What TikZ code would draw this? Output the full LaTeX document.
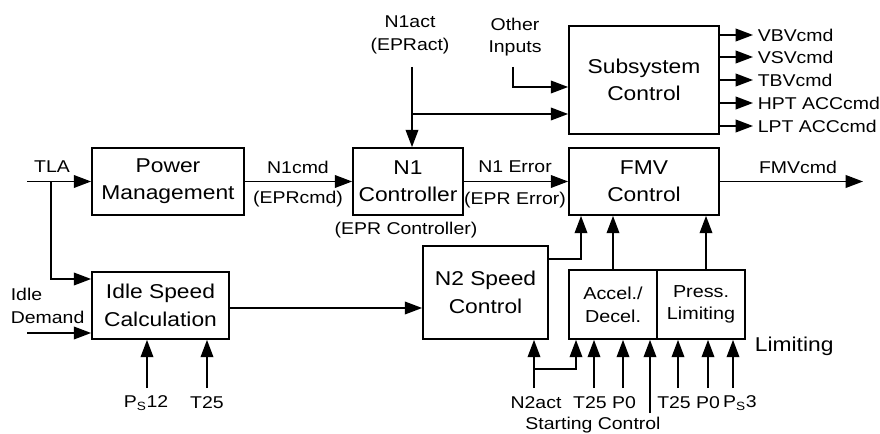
\documentclass[tikz,border=0pt]{standalone}
\usepackage{fontspec}
\setmainfont{Liberation Sans}[FakeStretch=1.14]
\usetikzlibrary{arrows.meta}

\tikzset{every picture/.style={line width=1.2pt}}
\tikzset{
  blk/.style={draw, line width=1.3pt, align=center, inner sep=0pt, font=\fontsize{15}{20.5}\selectfont},
  lbl/.style={inner sep=0.75pt, align=center, font=\fontsize{12.8}{17}\selectfont},
  sig/.style={-{Triangle[length=13pt,width=9.5pt]}},
}

\begin{document}
\begin{tikzpicture}[x=0.75pt,y=0.75pt,yscale=-1,xscale=1]
\useasboundingbox (0,0) rectangle (880,434);
%Blocks
\node [blk, minimum width=114pt, minimum height=50.25pt] (pm) at (168,181.5) {Power\\Management};
\node [blk, minimum width=82.5pt, minimum height=50.25pt] (n1) at (408,181.5) {N1\\Controller};
\node [blk, minimum width=112.5pt, minimum height=81pt] (ssc) at (644,80) {Subsystem\\Control};
\node [blk, minimum width=112.5pt, minimum height=50.25pt] (fmv) at (644,181.5) {FMV\\Control};
\node [blk, minimum width=102.75pt, minimum height=50.25pt] (isc) at (160.5,305.5) {Idle Speed\\Calculation};
\node [blk, minimum width=93.75pt, minimum height=69.75pt] (n2) at (485.5,292.5) {N2 Speed\\Control};
\node [blk, font=\fontsize{13}{17}\selectfont, minimum width=66pt, minimum height=51.75pt] (acc) at (613,304.5) {Accel./\\Decel.};
\node [blk, font=\fontsize{13}{17}\selectfont, minimum width=66pt, minimum height=51.75pt] (prs) at (701,304.5) {Press.\\Limiting};

%TLA
\coordinate (tla) at (27,181.5);
\coordinate (tlabr) at (51,181.5);
\node [lbl] (tlatxt) at (52,167) {TLA};
\draw [sig] (tla) -- (pm.west);
\draw [sig] (tlabr) |- (isc.west |- 0,279);
%Idle demand
\coordinate (idle) at (27,333);
\node [lbl, anchor=west, align=left] (idletxt) at (9,306) {Idle\\Demand};
\draw [sig] (idle) -- (idle -| isc.west);
\coordinate (ps12) at (147,388);
\coordinate (t25i) at (207,388);
\node [lbl] (ps12txt) at (146,403) {P\textsubscript{S}12};
\node [lbl] (t25itxt) at (207,403) {T25};
\draw [sig] (ps12) -- (ps12 |- isc.south);
\draw [sig] (t25i) -- (t25i |- isc.south);

%N1 path
\draw [sig] (pm.east) -- (n1.west);
\node [lbl] (n1cmd) at (298,167) {N1cmd};
\node [lbl] (eprcmd) at (298,199) {(EPRcmd)};
\node [lbl] (n1act) at (410,35) {N1act\\(EPRact)};
\coordinate (n1acttop) at (412,67);
\coordinate (n1br) at (412,114);
\draw [sig] (n1acttop) -- (n1acttop |- n1.north);
\draw [sig] (n1br) -- (ssc.west |- 0,114);
\node [lbl] (eprctl) at (406,230) {(EPR Controller)};
\draw [sig] (n1.east) -- (fmv.west);
\node [lbl] (n1err) at (515,167) {N1 Error};
\node [lbl] (eprerr) at (515,200) {(EPR Error)};

%Subsystem
\node [lbl] (oth) at (515,37) {Other\\Inputs};
\coordinate (othtop) at (513,67);
\draw [sig] (othtop) |- (ssc.west |- 0,87);
\foreach \y/\t [count=\i] in {35/VBVcmd,57/VSVcmd,80/TBVcmd,103/HPT ACCcmd,126/LPT ACCcmd}{
  \coordinate (out\i) at (753,\y);
  \draw [sig] (ssc.east |- out\i) -- (out\i);
  \node [lbl, anchor=west] (outtxt\i) at (756,\y) {\t};
}

%FMV
\coordinate (fmvout) at (863,181.5);
\draw [sig] (fmv.east) -- (fmvout);
\node [lbl] (fmvcmd) at (798,167) {FMVcmd};

%N2 and limiting
\draw [sig] (isc.east |- 0,308) -- (n2.west |- 0,308);
\draw [sig] (n2.east |- 0,259) -| (581,0 |- fmv.south);
\draw [sig] (acc.north) -- (acc.north |- fmv.south);
\draw [sig] (706,0 |- prs.north) -- (706,0 |- fmv.south);
\node [blk, draw=none, anchor=west] (limtxt) at (754,346) {Limiting};

%Bottom inputs
\coordinate (n2act) at (534,388);
\coordinate (n2br) at (534,369);
\draw [sig] (n2act) -- (n2act |- n2.south);
\draw [sig] (n2br) -| (576,0 |- acc.south);
\foreach \x in {594,623,678,708,733}{
  \coordinate (in\x) at (\x,388);
  \draw [sig] (in\x) -- (in\x |- acc.south);
}
\coordinate (start) at (650,413);
\draw [sig] (start) -- (start |- acc.south);
\node [lbl] (n2acttxt) at (536,403) {N2act};
\node [lbl] (t25a) at (590,403) {T25};
\node [lbl] (p0a) at (624,403) {P0};
\node [lbl] (t25b) at (674,403) {T25};
\node [lbl] (p0b) at (708,403) {P0};
\node [lbl] (ps3) at (740,403) {P\textsubscript{S}3};
\node [lbl] (starttxt) at (593,425) {Starting Control};
\end{tikzpicture}
\end{document}
